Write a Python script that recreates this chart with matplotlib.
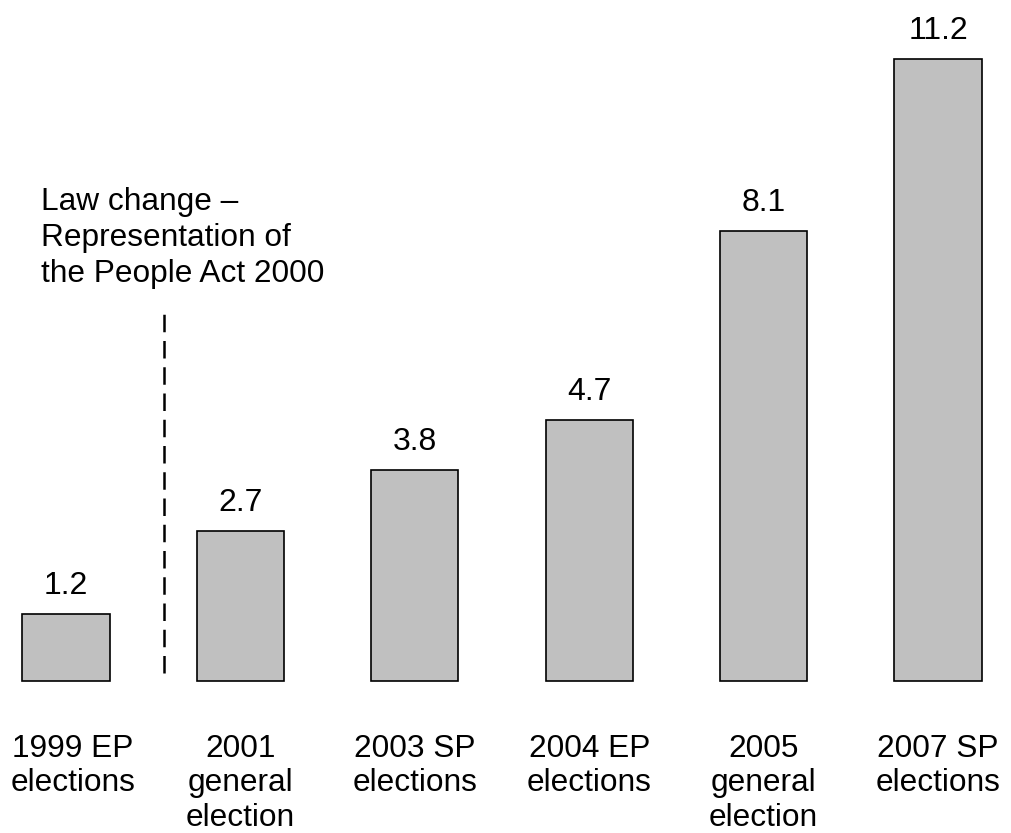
import matplotlib
matplotlib.use("Agg")
import matplotlib.pyplot as plt

plt.rcParams["font.family"] = ["Liberation Sans", "DejaVu Sans"]

categories = [
    "1999 EP\nelections",
    "2001\ngeneral\nelection",
    "2003 SP\nelections",
    "2004 EP\nelections",
    "2005\ngeneral\nelection",
    "2007 SP\nelections",
]
values = [1.2, 2.7, 3.8, 4.7, 8.1, 11.2]
note = "Law change \u2013\nRepresentation of\nthe People Act 2000"

fig = plt.figure(figsize=(10.12, 8.33), dpi=100)
ax = fig.add_axes([0, 0, 1, 1])
ax.set_xlim(-0.378, 5.424)
ax.set_ylim(-2.739, 12.27)
ax.axis("off")

x = list(range(len(values)))
ax.bar(x, values, width=0.5, color="#c0c0c0", edgecolor="black", linewidth=1.2)

for xi, v, cat in zip(x, values, categories):
    ax.annotate(f"{v:.1f}", (xi, v), xytext=(0, 14.4), textcoords="offset points",
                ha="center", va="baseline", fontsize=23)
    # first label is nudged in so it doesn't touch the left edge
    dx = 5 if xi == 0 else 0
    ax.annotate(cat, (xi, 0), xytext=(dx, -38), textcoords="offset points",
                ha="center", va="top", fontsize=22.8, linespacing=1.2)

# law change marker
ax.plot([0.564, 0.564], [0.14, 6.63], color="black", linewidth=1.8,
        linestyle=(0, (7, 3.5)))
ax.text(-0.145, 7.19, note, ha="left", va="baseline", fontsize=22.8, linespacing=1.26)

fig.savefig("out.png", dpi=100)
